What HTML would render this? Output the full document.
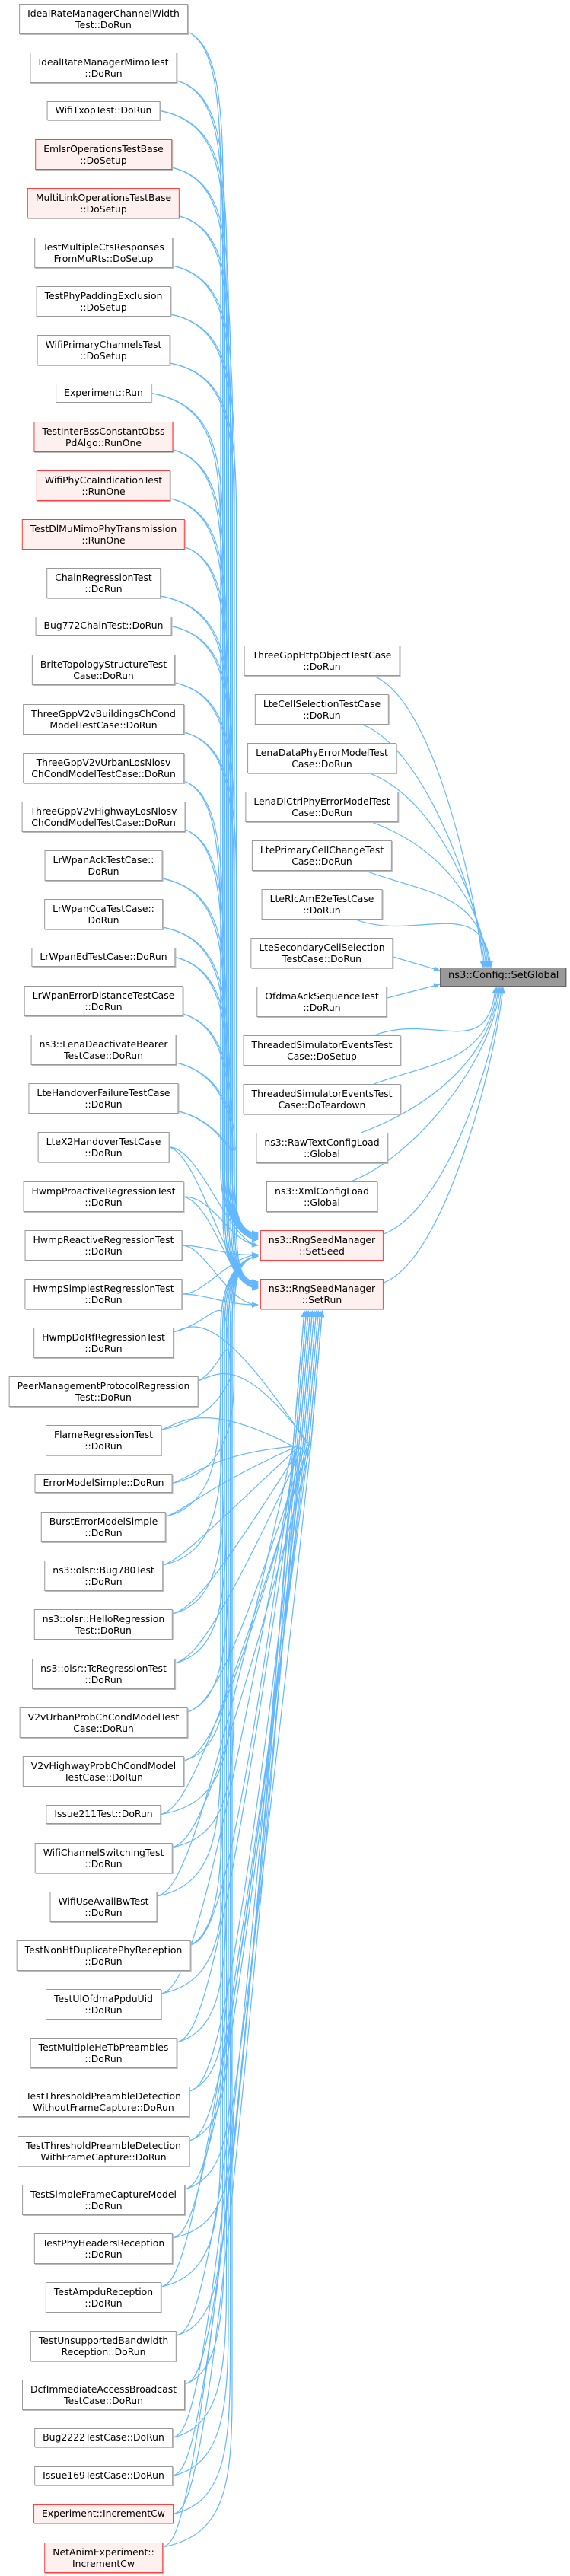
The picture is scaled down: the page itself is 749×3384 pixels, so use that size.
<!DOCTYPE html>
<html><head><meta charset="utf-8"><style>
body{margin:0;width:749px;height:3384px;background:#fff;position:relative;overflow:hidden}
.n{position:absolute;box-sizing:border-box;border:1px solid #999;background:#fff;font:12.4px "DejaVu Sans","Liberation Sans",sans-serif;color:#000;text-align:center;line-height:14.5px;padding:5px 10px;white-space:nowrap;transform:translateX(-50%);box-shadow:1px 1px 0 #bbb}
.s{height:25px;padding-top:4px}
.d{height:40px}
.r{border-color:#ff3f3f;background:#fff0f0}
.l{left:136px}.m{left:423px}
svg{position:absolute;left:0;top:0}
</style></head><body>
<svg id="g" width="749" height="3384"><defs><marker id="a" viewBox="0 0 10 10" refX="9" refY="5" markerWidth="9" markerHeight="9" markerUnits="userSpaceOnUse" orient="auto"><path d="M0,1 L10,5 L0,9 z" fill="#63b8ff"/></marker></defs></svg>
<div class="n d l" style="top:5px">IdealRateManagerChannelWidth<br>Test::DoRun</div>
<div class="n d l" style="top:69px">IdealRateManagerMimoTest<br>::DoRun</div>
<div class="n s l" style="top:133px">WifiTxopTest::DoRun</div>
<div class="n d l r" style="top:183px">EmlsrOperationsTestBase<br>::DoSetup</div>
<div class="n d l r" style="top:247px">MultiLinkOperationsTestBase<br>::DoSetup</div>
<div class="n d l" style="top:312px">TestMultipleCtsResponses<br>FromMuRts::DoSetup</div>
<div class="n d l" style="top:376px">TestPhyPaddingExclusion<br>::DoSetup</div>
<div class="n d l" style="top:440px">WifiPrimaryChannelsTest<br>::DoSetup</div>
<div class="n s l" style="top:504px">Experiment::Run</div>
<div class="n d l r" style="top:554px">TestInterBssConstantObss<br>PdAlgo::RunOne</div>
<div class="n d l r" style="top:618px">WifiPhyCcaIndicationTest<br>::RunOne</div>
<div class="n d l r" style="top:682px">TestDlMuMimoPhyTransmission<br>::RunOne</div>
<div class="n d l" style="top:746px">ChainRegressionTest<br>::DoRun</div>
<div class="n s l" style="top:810px">Bug772ChainTest::DoRun</div>
<div class="n d l" style="top:860px">BriteTopologyStructureTest<br>Case::DoRun</div>
<div class="n d l" style="top:925px">ThreeGppV2vBuildingsChCond<br>ModelTestCase::DoRun</div>
<div class="n d l" style="top:989px">ThreeGppV2vUrbanLosNlosv<br>ChCondModelTestCase::DoRun</div>
<div class="n d l" style="top:1053px">ThreeGppV2vHighwayLosNlosv<br>ChCondModelTestCase::DoRun</div>
<div class="n d l" style="top:1117px">LrWpanAckTestCase::<br>DoRun</div>
<div class="n d l" style="top:1181px">LrWpanCcaTestCase::<br>DoRun</div>
<div class="n s l" style="top:1245px">LrWpanEdTestCase::DoRun</div>
<div class="n d l" style="top:1295px">LrWpanErrorDistanceTestCase<br>::DoRun</div>
<div class="n d l" style="top:1359px">ns3::LenaDeactivateBearer<br>TestCase::DoRun</div>
<div class="n d l" style="top:1423px">LteHandoverFailureTestCase<br>::DoRun</div>
<div class="n d l" style="top:1487px">LteX2HandoverTestCase<br>::DoRun</div>
<div class="n d l" style="top:1552px">HwmpProactiveRegressionTest<br>::DoRun</div>
<div class="n d l" style="top:1616px">HwmpReactiveRegressionTest<br>::DoRun</div>
<div class="n d l" style="top:1680px">HwmpSimplestRegressionTest<br>::DoRun</div>
<div class="n d l" style="top:1744px">HwmpDoRfRegressionTest<br>::DoRun</div>
<div class="n d l" style="top:1808px">PeerManagementProtocolRegression<br>Test::DoRun</div>
<div class="n d l" style="top:1872px">FlameRegressionTest<br>::DoRun</div>
<div class="n s l" style="top:1936px">ErrorModelSimple::DoRun</div>
<div class="n d l" style="top:1986px">BurstErrorModelSimple<br>::DoRun</div>
<div class="n d l" style="top:2050px">ns3::olsr::Bug780Test<br>::DoRun</div>
<div class="n d l" style="top:2114px">ns3::olsr::HelloRegression<br>Test::DoRun</div>
<div class="n d l" style="top:2179px">ns3::olsr::TcRegressionTest<br>::DoRun</div>
<div class="n d l" style="top:2243px">V2vUrbanProbChCondModelTest<br>Case::DoRun</div>
<div class="n d l" style="top:2307px">V2vHighwayProbChCondModel<br>TestCase::DoRun</div>
<div class="n s l" style="top:2371px">Issue211Test::DoRun</div>
<div class="n d l" style="top:2421px">WifiChannelSwitchingTest<br>::DoRun</div>
<div class="n d l" style="top:2485px">WifiUseAvailBwTest<br>::DoRun</div>
<div class="n d l" style="top:2549px">TestNonHtDuplicatePhyReception<br>::DoRun</div>
<div class="n d l" style="top:2613px">TestUlOfdmaPpduUid<br>::DoRun</div>
<div class="n d l" style="top:2677px">TestMultipleHeTbPreambles<br>::DoRun</div>
<div class="n d l" style="top:2741px">TestThresholdPreambleDetection<br>WithoutFrameCapture::DoRun</div>
<div class="n d l" style="top:2806px">TestThresholdPreambleDetection<br>WithFrameCapture::DoRun</div>
<div class="n d l" style="top:2870px">TestSimpleFrameCaptureModel<br>::DoRun</div>
<div class="n d l" style="top:2934px">TestPhyHeadersReception<br>::DoRun</div>
<div class="n d l" style="top:2998px">TestAmpduReception<br>::DoRun</div>
<div class="n d l" style="top:3062px">TestUnsupportedBandwidth<br>Reception::DoRun</div>
<div class="n d l" style="top:3126px">DcfImmediateAccessBroadcast<br>TestCase::DoRun</div>
<div class="n s l" style="top:3190px">Bug2222TestCase::DoRun</div>
<div class="n s l" style="top:3240px">Issue169TestCase::DoRun</div>
<div class="n s l r" style="top:3290px">Experiment::IncrementCw</div>
<div class="n d l r" style="top:3340px">NetAnimExperiment::<br>IncrementCw</div>

<div class="n d m" style="top:848px">ThreeGppHttpObjectTestCase<br>::DoRun</div>
<div class="n d m" style="top:912px">LteCellSelectionTestCase<br>::DoRun</div>
<div class="n d m" style="top:976px">LenaDataPhyErrorModelTest<br>Case::DoRun</div>
<div class="n d m" style="top:1040px">LenaDlCtrlPhyErrorModelTest<br>Case::DoRun</div>
<div class="n d m" style="top:1104px">LtePrimaryCellChangeTest<br>Case::DoRun</div>
<div class="n d m" style="top:1168px">LteRlcAmE2eTestCase<br>::DoRun</div>
<div class="n d m" style="top:1232px">LteSecondaryCellSelection<br>TestCase::DoRun</div>
<div class="n d m" style="top:1296px">OfdmaAckSequenceTest<br>::DoRun</div>
<div class="n d m" style="top:1360px">ThreadedSimulatorEventsTest<br>Case::DoSetup</div>
<div class="n d m" style="top:1424px">ThreadedSimulatorEventsTest<br>Case::DoTeardown</div>
<div class="n d m" style="top:1488px">ns3::RawTextConfigLoad<br>::Global</div>
<div class="n d m" style="top:1552px">ns3::XmlConfigLoad<br>::Global</div>
<div class="n d m r" style="top:1616px">ns3::RngSeedManager<br>::SetSeed</div>
<div class="n d m r" style="top:1680px">ns3::RngSeedManager<br>::SetRun</div>
<div class="n s" style="top:1271px;left:661px;width:166px;background:#999;border-color:#666;font-size:13px;padding-top:3px">ns3::Config::SetGlobal</div>

<script>
var g=document.getElementById('g'),ns='http://www.w3.org/2000/svg';
function p(d,arrow){var e=document.createElementNS(ns,'path');e.setAttribute('d',d);e.setAttribute('fill','none');e.setAttribute('stroke','#63b8ff');e.setAttribute('stroke-width','1.2');if(arrow)e.setAttribute('marker-end','url(#a)');g.appendChild(e);}
var nodes=document.querySelectorAll('.n');
var L=[],M=[];
nodes.forEach(function(n){var r=n.getBoundingClientRect();var o={x0:r.left,x1:r.right,y0:r.top,y1:r.bottom,yc:(r.top+r.bottom)/2};if(n.classList.contains('l'))L.push(o);else if(n.classList.contains('m'))M.push(o);});
var SX=339,seedT=1616,seedB=1656,runT=1680,runB=1720;
L.forEach(function(o,i){
 var ys=o.y1-o.y0>30?o.y1-3:o.yc;
 var bx=290+(i%8)*2.5;
 if(o.yc<1600){
  var t1=seedT+4+(i%5)*2,t2=runT+4+(i%5)*2;
  if(o.yc>1500){p('M'+o.x1+','+o.yc+' C'+(o.x1+40)+','+o.yc+' 300,'+(seedT+15)+' '+SX+','+(seedT+20),1);p('M'+o.x1+','+o.yc+' C'+(o.x1+40)+','+(o.yc+10)+' 300,'+(runT+10)+' '+SX+','+(runT+12),1);return;}
  p('M'+o.x1+','+ys+' C'+(bx-10)+','+(ys+15)+' '+bx+','+(ys+80)+' '+bx+','+Math.min(ys+200,seedT-120)+' L'+bx+','+(seedT-80)+' C'+bx+','+(seedT-20)+' 315,'+t1+' '+SX+','+t1,1);
  p('M'+o.x1+','+ys+' C'+(bx-8)+','+(ys+15)+' '+(bx+3)+','+(ys+80)+' '+(bx+3)+','+Math.min(ys+200,seedT-120)+' L'+(bx+3)+','+(runT-80)+' C'+(bx+3)+','+(runT-20)+' 315,'+t2+' '+SX+','+t2,1);
 } else if(o.yc<1760){
  p('M'+o.x1+','+o.yc+' C'+(o.x1+30)+','+o.yc+' 300,'+(seedB-5)+' '+SX+','+(seedB-8),1);
  p('M'+o.x1+','+o.yc+' C'+(o.x1+30)+','+o.yc+' 300,'+(runB-5)+' '+SX+','+(runB-6),1);
 } else {
  var ys2=o.y1-o.y0>30?o.y0+6:o.yc;
  p('M'+o.x1+','+ys2+' C'+(bx-10)+','+(ys2-15)+' '+bx+','+(ys2-80)+' '+bx+','+Math.max(ys2-200,seedB+150)+' L'+bx+','+(seedB+90)+' C'+bx+','+(seedB+30)+' 310,'+(seedB-2)+' '+SX+','+(seedB-6),1);
  var tx=400+(i%10)*2.6;
  p('M'+o.x1+','+ys2+' C'+(o.x1+25)+','+(ys2-8)+' '+(o.x1+55)+','+(ys2-40)+' '+(tx-15)+','+(runB+180)+' L'+tx+','+(runB+2),1);
 }
});
var GX=578,GT=1271,GB=1297;
M.forEach(function(o,i){
 if(i==6){p('M'+o.x1+','+(o.yc+5)+' L'+GX+','+(GT+4),1);return;}
 if(i==7){p('M'+o.x1+','+(o.yc-5)+' L'+GX+','+(GB-4),1);return;}
 var sx=o.x1-35,tx=635+i*2;
 if(o.y1<GT){p('M'+sx+','+o.y1+' C'+(sx+80)+','+(o.y1+30)+' '+(tx-10)+','+(GT-100)+' '+tx+','+GT,1);}
 else{var y=(i>=12)?o.y0+5:o.y0;var x=(i>=12)?o.x1:sx;p('M'+x+','+y+' C'+(x+80)+','+(y-30)+' '+(tx-10)+','+(GB+100)+' '+tx+','+GB,1);}
});
</script>
</body></html>
